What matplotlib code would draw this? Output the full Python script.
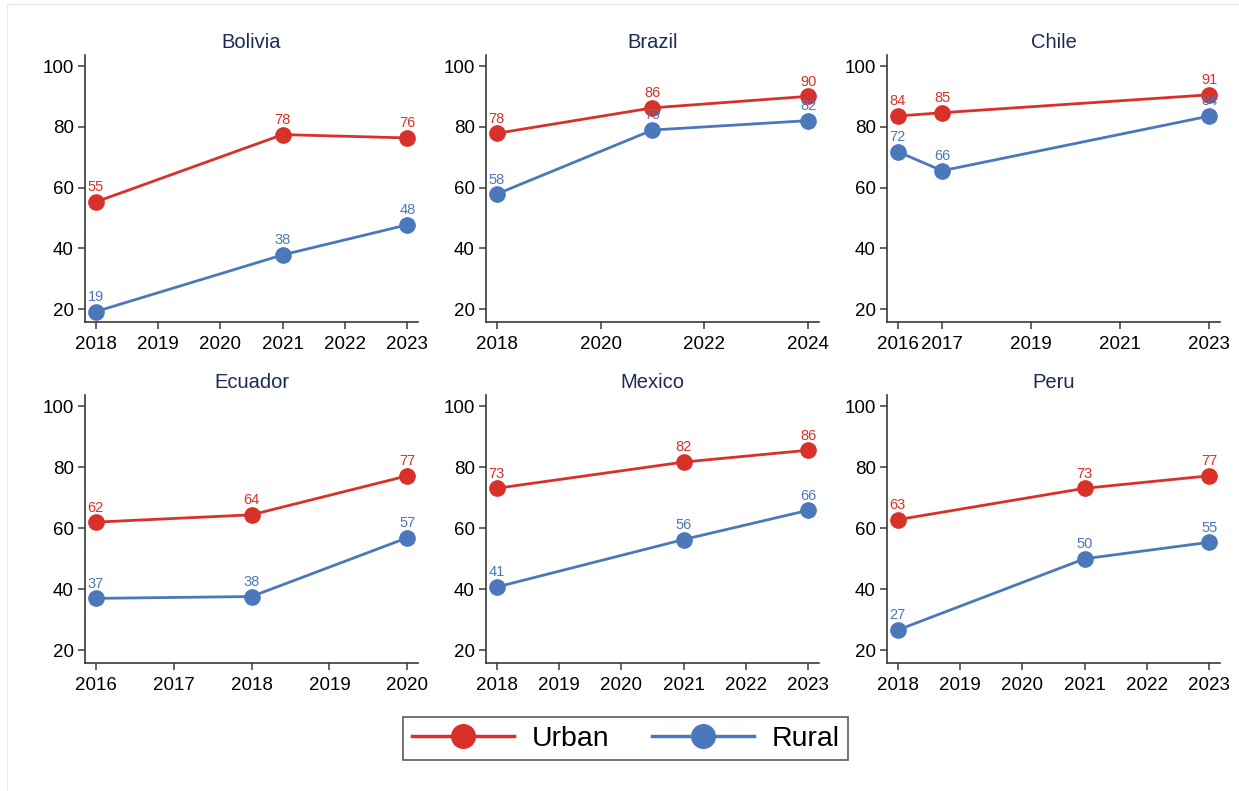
import matplotlib

matplotlib.use("Agg")
import matplotlib.pyplot as plt
from matplotlib.lines import Line2D
from matplotlib.patches import Rectangle

plt.rcParams["font.family"] = ["Liberation Sans", "DejaVu Sans"]

# Share of households by area, per country and survey year.
countries = ["Bolivia", "Brazil", "Chile", "Ecuador", "Mexico", "Peru"]
years = {
    "Bolivia": [2018, 2021, 2023],
    "Brazil": [2018, 2021, 2024],
    "Chile": [2016, 2017, 2023],
    "Ecuador": [2016, 2018, 2020],
    "Mexico": [2018, 2021, 2023],
    "Peru": [2018, 2021, 2023],
}
urban = {
    "Bolivia": [55.3, 77.5, 76.4],
    "Brazil": [77.9, 86.3, 90.1],
    "Chile": [83.6, 84.7, 90.6],
    "Ecuador": [62.0, 64.4, 77.2],
    "Mexico": [73.1, 81.7, 85.6],
    "Peru": [62.8, 73.1, 77.2],
}
rural = {
    "Bolivia": [19.2, 37.9, 47.8],
    "Brazil": [57.9, 79.0, 82.1],
    "Chile": [71.9, 65.6, 83.6],
    "Ecuador": [37.0, 37.6, 56.9],
    "Mexico": [40.7, 56.3, 65.9],
    "Peru": [26.6, 50.0, 55.4],
}
xticks = {
    "Bolivia": [2018, 2019, 2020, 2021, 2022, 2023],
    "Brazil": [2018, 2020, 2022, 2024],
    "Chile": [2016, 2017, 2019, 2021, 2023],
    "Ecuador": [2016, 2017, 2018, 2019, 2020],
    "Mexico": [2018, 2019, 2020, 2021, 2022, 2023],
    "Peru": [2018, 2019, 2020, 2021, 2022, 2023],
}
yticks = [20, 40, 60, 80, 100]

RED = "#d7312a"
BLUE = "#4a78bb"
TITLE = "#1c2a57"
AXIS = "#3a3a3a"

W, H = 1239, 791
fig = plt.figure(figsize=(W / 100, H / 100), dpi=100)
fig.patch.set_facecolor("white")

# faint outer graph-region frame
fig.add_artist(Rectangle((7 / W, -0.1), 1.2, 1 - 4 / H + 0.1, transform=fig.transFigure,
                         fill=False, edgecolor="#e6ecf0", linewidth=1.0))

lefts = [85, 486, 887]
rows = [(55, 322), (395, 663)]
width = 333


def add_panel(ax, name):
    xs = years[name]
    ax.plot(xs, urban[name], color=RED, lw=2.0, marker="o", ms=11, zorder=3)
    ax.plot(xs, rural[name], color=BLUE, lw=2.0, marker="o", ms=11, zorder=3)
    for series, color in ((urban[name], RED), (rural[name], BLUE)):
        for x, v in zip(xs, series):
            ax.annotate(f"{v:.0f}", (x, v), xytext=(0, 10.5), textcoords="offset points",
                        ha="center", va="center", color=color, fontsize=10.5, zorder=4)

    ticks = xticks[name]
    span = ticks[-1] - ticks[0]
    pad = 0.034 * span
    ax.set_xlim(ticks[0] - pad, ticks[-1] + pad)
    ax.set_ylim(15.8, 103.7)
    ax.set_xticks(ticks)
    ax.set_yticks(yticks)
    ax.set_title(name, color=TITLE, fontsize=14.5, pad=5)
    for side in ("top", "right"):
        ax.spines[side].set_visible(False)
    for side in ("left", "bottom"):
        ax.spines[side].set_color(AXIS)
        ax.spines[side].set_linewidth(1.2)
    ax.tick_params(direction="out", length=5, width=1.1, color=AXIS, labelsize=13.5,
                   labelcolor="black", pad=3)
    ax.tick_params(axis="x", pad=5)


for i, name in enumerate(countries):
    r, c = divmod(i, 3)
    top, bottom = rows[r]
    ax = fig.add_axes([lefts[c] / W, 1 - bottom / H, width / W, (bottom - top) / H])
    add_panel(ax, name)

handles = [
    Line2D([], [], color=RED, lw=2.5, marker="o", ms=17),
    Line2D([], [], color=BLUE, lw=2.5, marker="o", ms=17),
]
leg = fig.legend(handles, ["Urban", "Rural"], loc="center", ncol=2,
                 bbox_to_anchor=(625.5 / W, 1 - 738.5 / H), fontsize=20.5,
                 frameon=True, fancybox=False, edgecolor="#333333",
                 handlelength=3.6, handletextpad=0.6, columnspacing=1.5,
                 borderpad=0.3, borderaxespad=0)
leg.get_frame().set_linewidth(1.2)

fig.savefig("out.png", dpi=100, facecolor="white")
